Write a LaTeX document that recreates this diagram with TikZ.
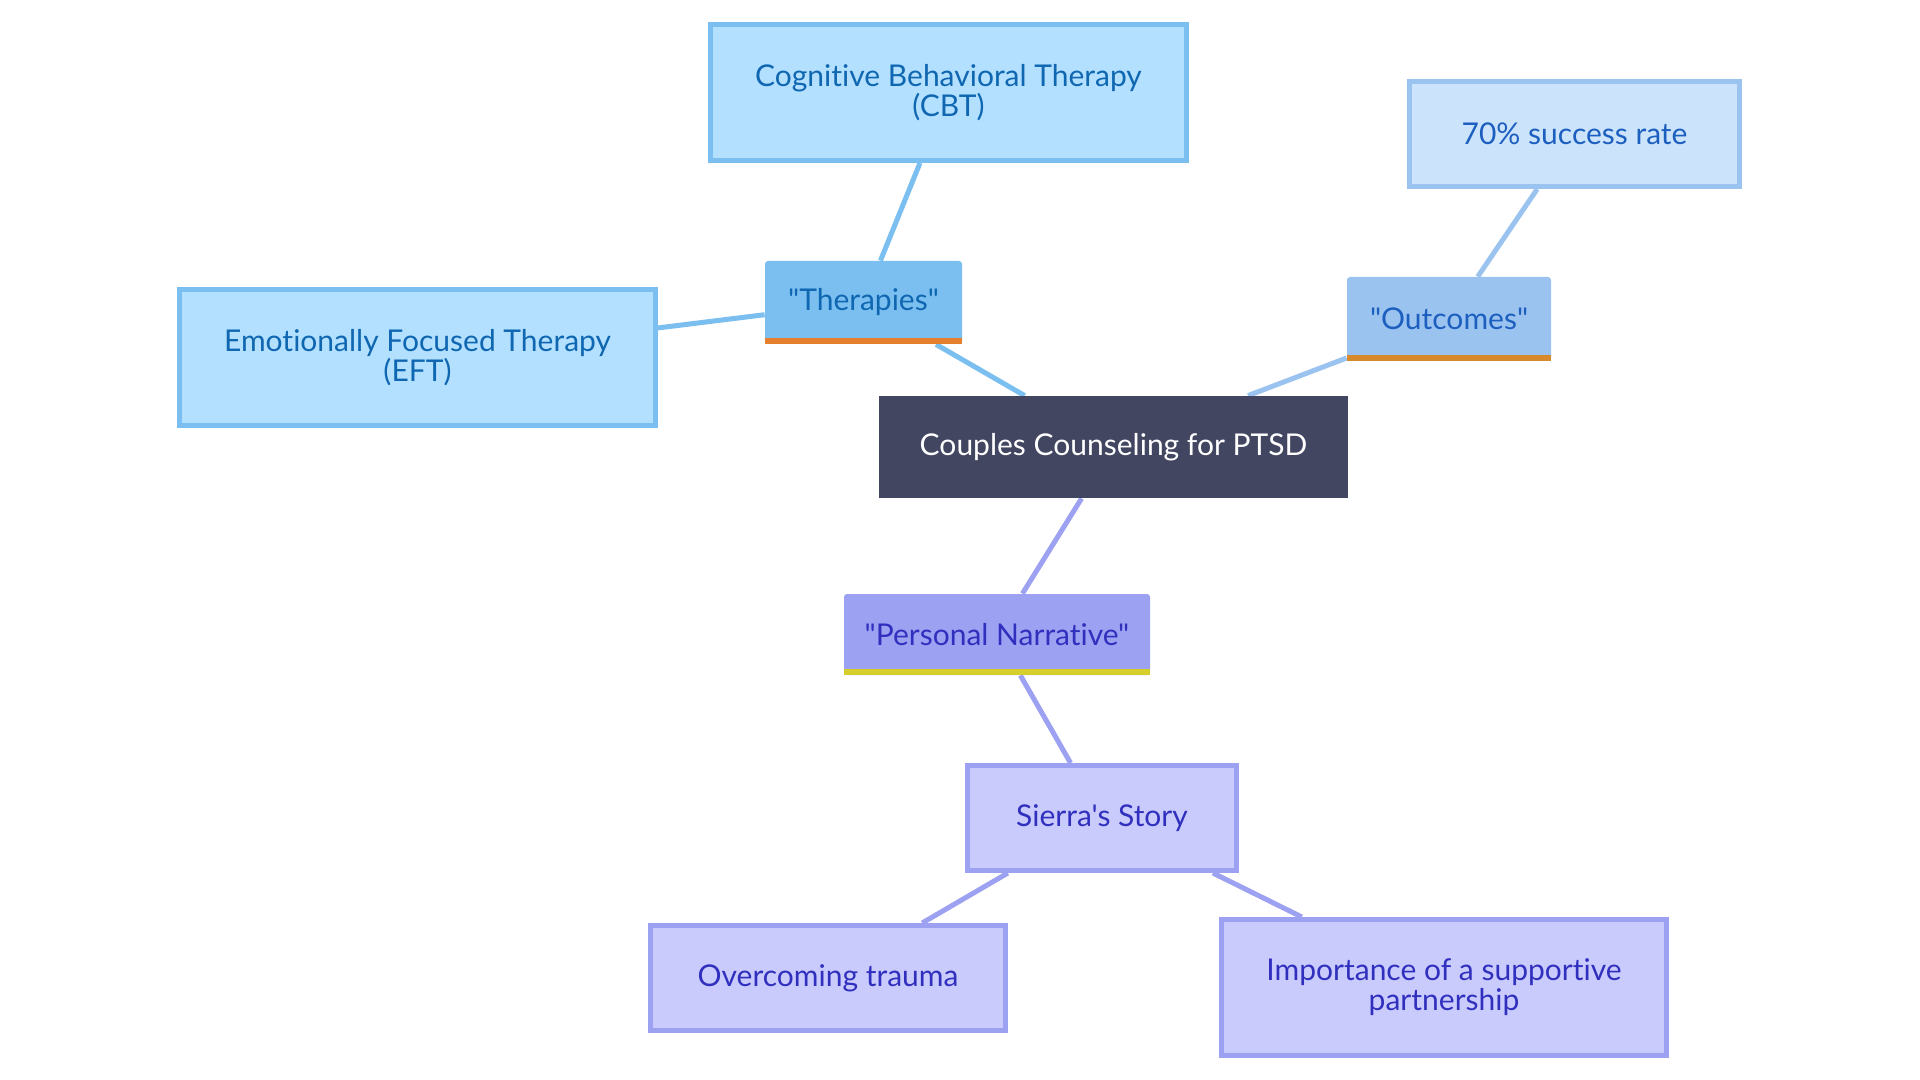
\documentclass[tikz,border=0pt]{standalone}
\usepackage{fontspec}
\setmainfont{Lato}[Ligatures={TeXOff,NoCommon}]
\usetikzlibrary{%
    backgrounds,
    calc
}
\definecolor{rootfill}{HTML}{424660}
\definecolor{blueA}{HTML}{7BBFF0}
\definecolor{blueAleaf}{HTML}{B3E0FF}
\definecolor{blueAtext}{HTML}{0F67B1}
\definecolor{blueB}{HTML}{9BC3F0}
\definecolor{blueBleaf}{HTML}{CCE3FC}
\definecolor{blueBtext}{HTML}{1C5FBF}
\definecolor{violet}{HTML}{9DA1F1}
\definecolor{violetleaf}{HTML}{C9CBFD}
\definecolor{violettext}{HTML}{3130BE}
\definecolor{barorange}{HTML}{E57F2E}
\definecolor{barochre}{HTML}{D88A2A}
\definecolor{baryellow}{HTML}{D5CE2B}

\begin{document}
\begin{tikzpicture}[x=0.5pt, y=-0.5pt,
    every node/.style={font=\fontsize{15}{15}\selectfont, align=center, inner sep=0pt},
    topic/.style={fill=#1, rounded corners=1.5pt},
    leaf/.style={draw=#1, line width=2.5pt},
    link/.style={draw=#1, line width=2.5pt}]
    \begin{scope}[on background layer]
        \path[use as bounding box, fill=white] (0,0) rectangle (1920,1080);
    \end{scope}

    \node (root) at (1113.5,447) [fill=rootfill, text=white,
        minimum width=234.5pt, minimum height=51pt] {Couples Counseling for PTSD};

    \node (ther) at (863.5,302.5) [topic=blueA, text=blueAtext,
        minimum width=98.5pt, minimum height=41.5pt] {"Therapies"};
    \node (outc) at (1449,319) [topic=blueB, text=blueBtext,
        minimum width=102pt, minimum height=42pt] {"Outcomes"};
    \node (pers) at (997,634.5) [topic=violet, text=violettext,
        minimum width=153pt, minimum height=40.5pt] {"Personal Narrative"};

    \node (cbt) at (948.5,92.5) [leaf=blueA, fill=blueAleaf, text=blueAtext,
        minimum width=238pt, minimum height=68pt] {Cognitive Behavioral Therapy\\(CBT)};
    \node (eft) at (417.5,357.5) [leaf=blueA, fill=blueAleaf, text=blueAtext,
        minimum width=238pt, minimum height=68pt] {Emotionally Focused Therapy\\(EFT)};
    \node (rate) at (1574.5,134) [leaf=blueB, fill=blueBleaf, text=blueBtext,
        minimum width=165pt, minimum height=52.5pt] {70\% success rate};
    \node (story) at (1102,818) [leaf=violet, fill=violetleaf, text=violettext,
        minimum width=134.5pt, minimum height=52.5pt] {Sierra's Story};
    \node (trauma) at (828,978) [leaf=violet, fill=violetleaf, text=violettext,
        minimum width=177.5pt, minimum height=52.5pt] {Overcoming trauma};
    \node (partner) at (1444,987.5) [leaf=violet, fill=violetleaf, text=violettext,
        minimum width=222.5pt, minimum height=68pt] {Importance of a supportive\\partnership};

    \foreach \Name/\Bar in {ther/barorange, outc/barochre, pers/baryellow}
        \fill[\Bar] (\Name.south west) rectangle ([yshift=3pt]\Name.south east);

    \begin{scope}[on background layer]
        \foreach \Source/\Target/\Colour in {%
            root/ther/blueA,
            ther/cbt/blueA,
            ther/eft/blueA,
            root/outc/blueB,
            outc/rate/blueB,
            root/pers/violet,
            pers/story/violet,
            story/trauma/violet,
            story/partner/violet%
        }
        \draw[link=\Colour] (\Source) to (\Target);
    \end{scope}
\end{tikzpicture}
\end{document}
